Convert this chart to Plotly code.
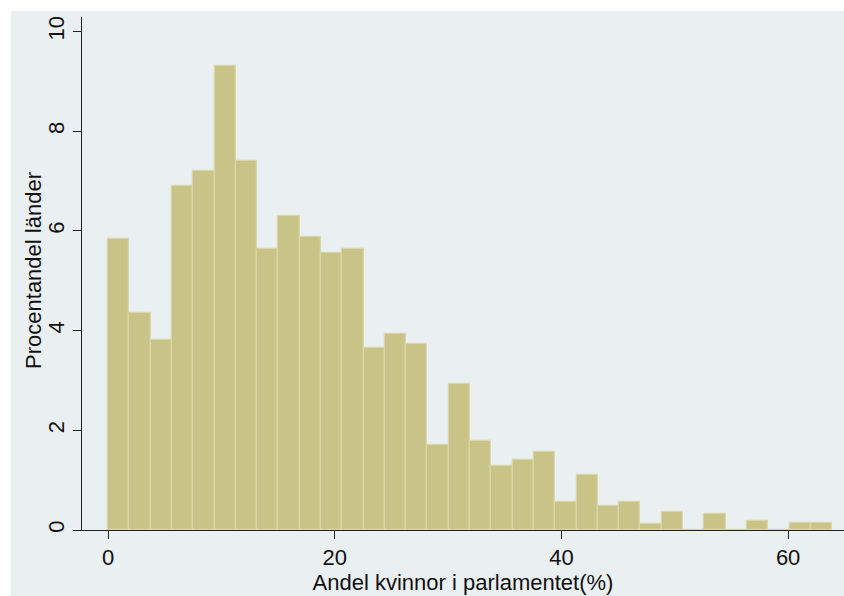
import plotly.graph_objects as go

# Histogram of women's share of parliament seats (percent of countries per bin)
bin_start = 0.0
bin_width = 1.879
percent_countries = [
    5.83, 4.35, 3.81, 6.91, 7.21, 9.31, 7.40, 5.64, 6.29, 5.88,
    5.56, 5.64, 3.66, 3.93, 3.74, 1.71, 2.93, 1.79, 1.29, 1.40,
    1.56, 0.57, 1.10, 0.48, 0.57, 0.13, 0.37, 0.00, 0.33, 0.00,
    0.18, 0.00, 0.14, 0.14,
]
x_ticks = [0, 20, 40, 60]
y_ticks = [0, 2, 4, 6, 8, 10]
x_title = "Andel kvinnor i parlamentet(%)"
y_title = "Procentandel länder"

centers = [bin_start + bin_width * (i + 0.5) for i in range(len(percent_countries))]

FONT = "Liberation Sans, Arial, Helvetica, sans-serif"
BAR_FILL = "rgb(200,195,135)"
BAR_EDGE = "rgb(218,214,170)"
OUTER_BG = "#eaeff2"
GRID = "#e9f0f2"

fig = go.Figure()
fig.add_trace(go.Bar(
    x=centers,
    y=percent_countries,
    width=bin_width,
    marker=dict(color=BAR_FILL, line=dict(color=BAR_EDGE, width=1.3)),
    showlegend=False,
    hoverinfo="x+y",
))

fig.update_layout(
    width=844,
    height=596,
    margin=dict(l=82, r=0, t=17, b=66),
    paper_bgcolor="white",
    plot_bgcolor="white",
    font=dict(family=FONT, size=22, color="#111111"),
    bargap=0,
    shapes=[dict(
        type="rect", xref="paper", yref="paper",
        x0=-71 / 762, x1=1.0, y0=-66 / 513, y1=519 / 513,
        fillcolor=OUTER_BG, line=dict(width=0), layer="below",
    )],
    annotations=[dict(
        text=y_title, textangle=-90, showarrow=False,
        xref="paper", yref="paper", x=-48 / 762, y=0.505,
        xanchor="center", yanchor="middle",
        font=dict(size=22),
    )],
)

fig.update_xaxes(
    range=[-2.294, 64.93],
    tickvals=x_ticks,
    ticks="outside", ticklen=8, tickwidth=1, tickcolor="#222222",
    showline=True, linecolor="#222222", linewidth=1,
    showgrid=False, zeroline=False,
    tickfont=dict(size=22),
    title=dict(text=x_title, font=dict(size=22), standoff=4),
)
fig.update_yaxes(
    range=[0, 10.29],
    tickvals=y_ticks,
    tickangle=-90,
    ticks="outside", ticklen=8, tickwidth=1, tickcolor="#222222",
    showline=True, linecolor="#222222", linewidth=1,
    showgrid=True, gridcolor=GRID, gridwidth=1.5,
    zeroline=False,
    tickfont=dict(size=22),
)

fig.write_html("out.html")
